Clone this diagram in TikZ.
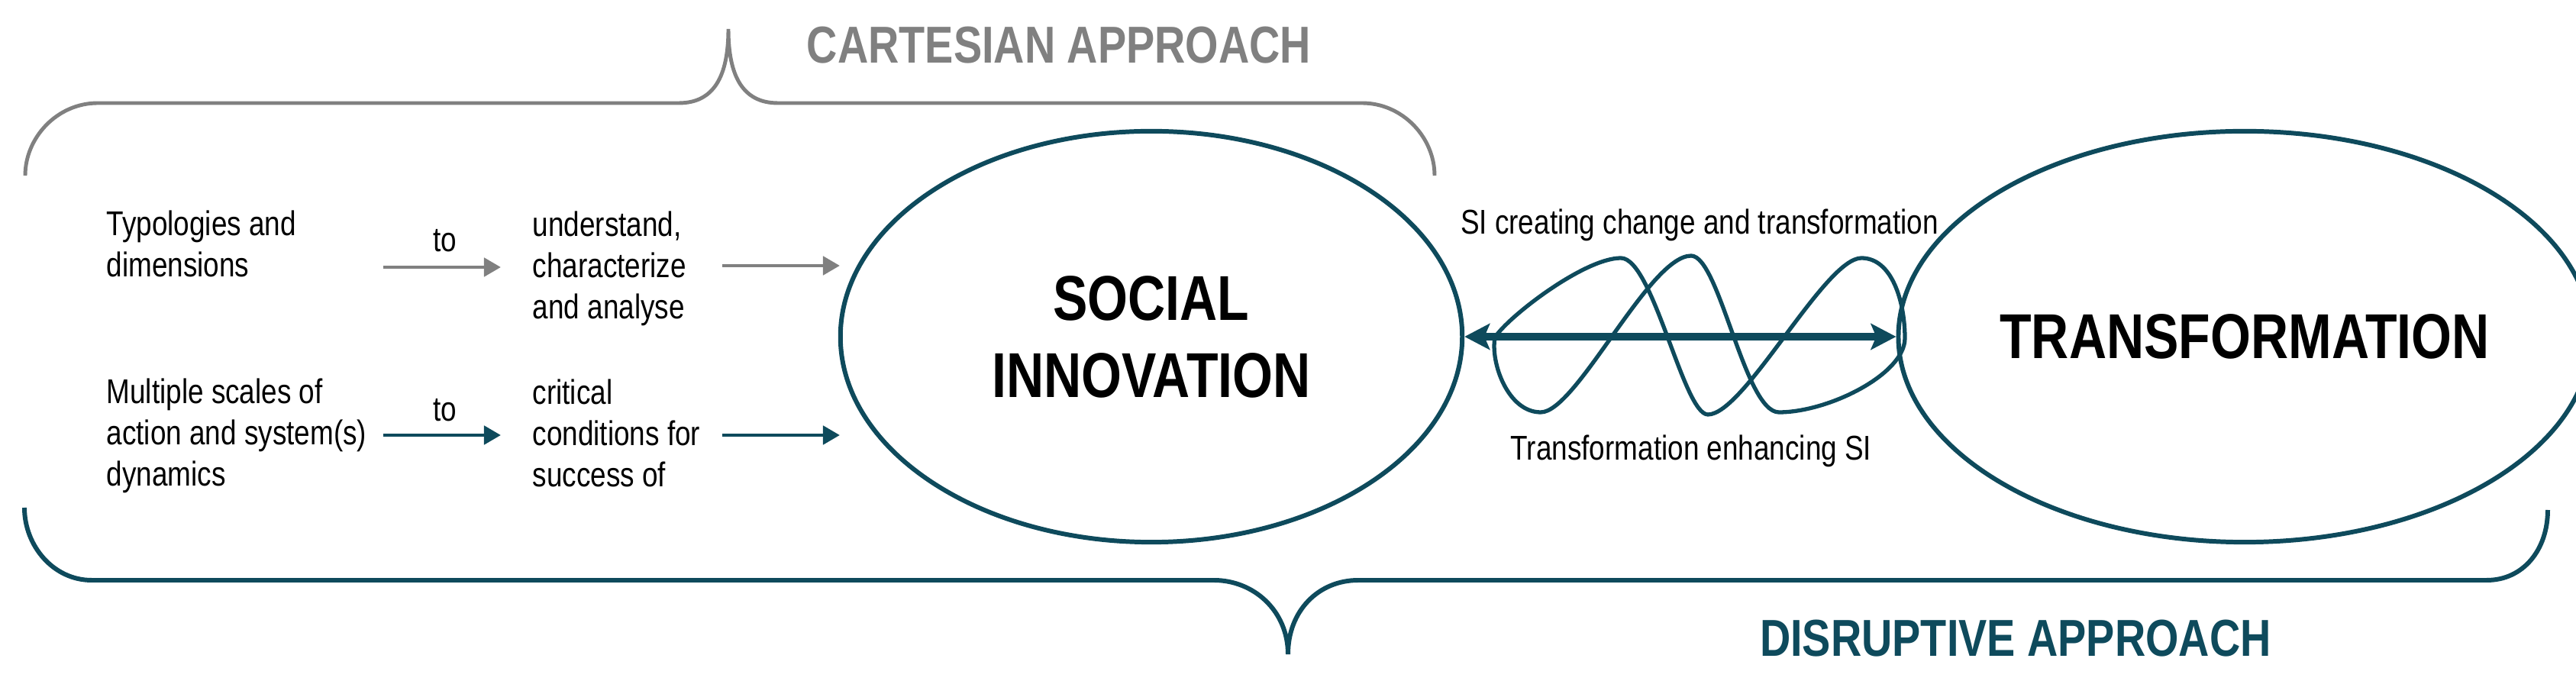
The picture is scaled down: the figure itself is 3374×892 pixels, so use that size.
\documentclass[tikz,border=0pt]{standalone}
\usepackage{fontspec}
\setmainfont{Liberation Sans}[FakeStretch=0.82]
\usetikzlibrary{arrows.meta,shapes.geometric}
\definecolor{darkteal}{HTML}{0E4A5C}
\definecolor{cgray}{HTML}{808080}
\begin{document}
\begin{tikzpicture}[x=0.01cm,y=-0.01cm,
  small/.style={font=\fontsize{12.8}{15.4}\selectfont, inner sep=0pt, align=left, text=black},
  big/.style={font=\bfseries\fontsize{23.6}{28.7}\selectfont, text=black, align=center},
  head/.style={font=\bfseries\fontsize{19.35}{23}\selectfont, inner sep=0pt, anchor=base},
  bubble/.style={ellipse, draw=darkteal, line width=1.7pt, minimum width=8.14cm, minimum height=5.38cm, inner sep=0pt},
  garrow/.style={draw=cgray, line width=1.4pt, -{Triangle[length=0.22cm,width=0.24cm]}},
  darrow/.style={draw=darkteal, line width=1.4pt, -{Triangle[length=0.22cm,width=0.24cm]}},
  bigarrow/.style={draw=darkteal, line width=3pt, {Stealth[length=0.33cm,width=0.34cm,inset=0.07cm]}-{Stealth[length=0.33cm,width=0.34cm,inset=0.07cm]}},
  wave/.style={draw=darkteal, line width=1.5pt, line join=round},
  gbrace/.style={draw=cgray, line width=1.4pt},
  dbrace/.style={draw=darkteal, line width=1.7pt}
]
\useasboundingbox (0,0) rectangle (3374,892);

% braces
\draw[gbrace] (33,230) .. controls (33,180) and (75,135) .. (128,135) -- (889,135)
  .. controls (935,135) and (954,100) .. (954,38)
  .. controls (954,100) and (973,135) .. (1019,135) -- (1784,135)
  .. controls (1837,135) and (1879,180) .. (1879,230);
\draw[dbrace] (32,665) .. controls (32,715) and (70,760) .. (120,760) -- (1590,760)
  .. controls (1642,760) and (1687,800) .. (1687,857)
  .. controls (1687,800) and (1727,760) .. (1779,760) -- (3257,760)
  .. controls (3305,760) and (3337,720) .. (3337,668);

\node[head, text=cgray] (cart) at (1387,83) {CARTESIAN APPROACH};
\node[head, text=darkteal] (disr) at (2640,860) {DISRUPTIVE APPROACH};

% ellipses
\node[bubble, big] (si) at (1508,441) {SOCIAL\\INNOVATION};
\node[bubble, big] (tr) at (2940,441) {TRANSFORMATION};

% left texts (base anchor = baseline of the last line)
\node[small, anchor=base west] (t1) at (139,363) {Typologies and\\dimensions};
\node[small, anchor=base] (to1) at (583,330) {to};
\node[small, anchor=base west] (u1) at (697,418) {understand,\\characterize\\and analyse};
\node[small, anchor=base west] (m1) at (139,637) {Multiple scales of\\action and system(s)\\dynamics};
\node[small, anchor=base] (to2) at (583,552) {to};
\node[small, anchor=base west] (c1) at (697,638) {critical\\conditions for\\success of};

\coordinate (g1s) at (502,350); \coordinate (g1e) at (656,350);
\coordinate (g2s) at (946,348); \coordinate (g2e) at (1100,348);
\coordinate (d1s) at (502,570); \coordinate (d1e) at (656,570);
\coordinate (d2s) at (946,570); \coordinate (d2e) at (1100,570);
\draw[garrow] (g1s) -- (g1e);
\draw[garrow] (g2s) -- (g2e);
\draw[darrow] (d1s) -- (d1e);
\draw[darrow] (d2s) -- (d2e);

% interaction labels
\node[small, anchor=base] (sitop) at (2226,307) {SI creating change and transformation};
\node[small, anchor=base] (sibot) at (2215,603) {Transformation enhancing SI};

% intertwined loop
\draw[wave] (1958,442)
 .. controls (1975,415) and (2075,338) .. (2123,338)
 .. controls (2165,338) and (2205,543) .. (2237,543)
 .. controls (2285,543) and (2390,338) .. (2438,338)
 .. controls (2478,338) and (2495,395) .. (2495,443)
 .. controls (2495,490) and (2395,540) .. (2330,540)
 .. controls (2285,540) and (2252,335) .. (2215,335)
 .. controls (2160,335) and (2065,540) .. (2018,540)
 .. controls (1975,540) and (1952,475) .. (1958,442) -- cycle;

\draw[bigarrow] (si.east) -- (tr.west);
\end{tikzpicture}
\end{document}
